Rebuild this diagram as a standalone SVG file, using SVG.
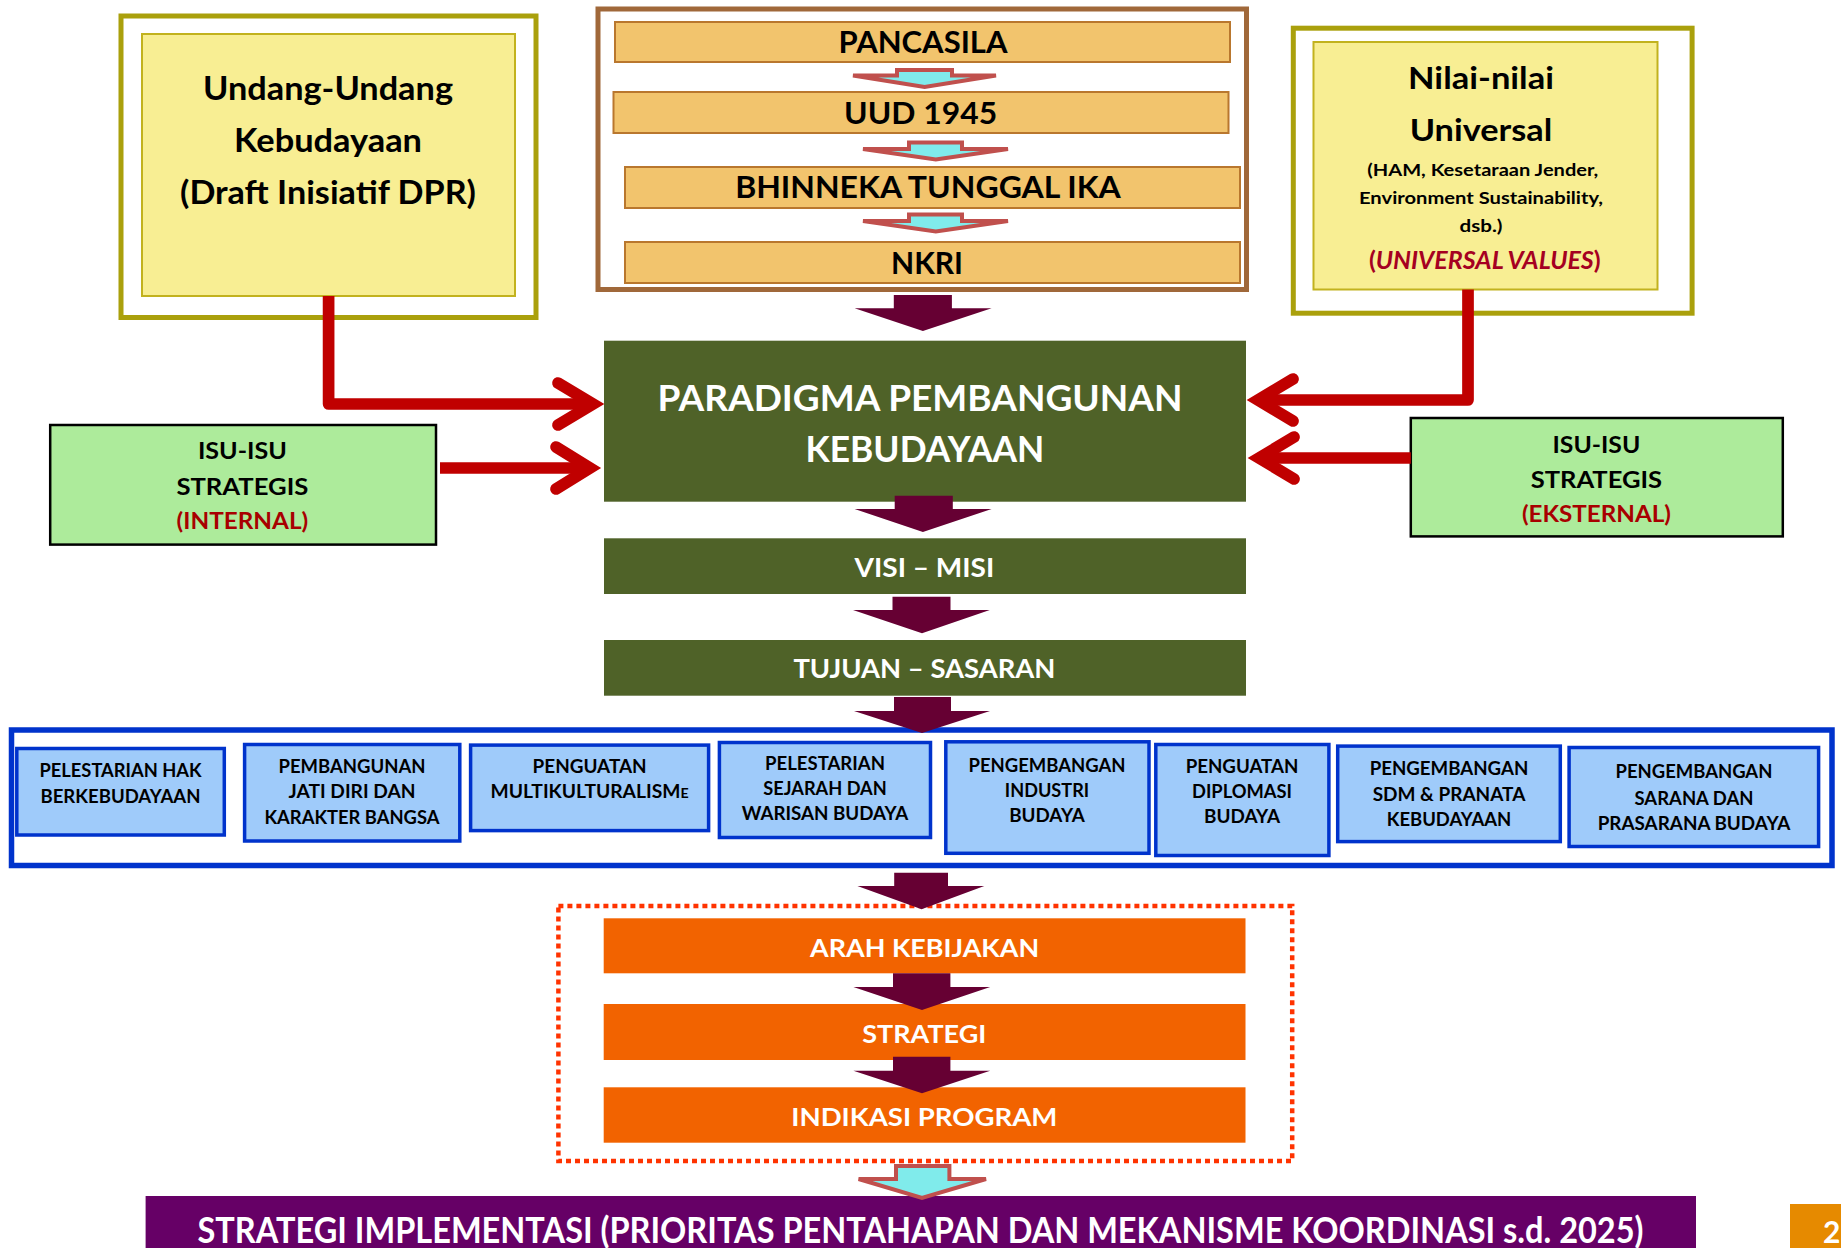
<svg xmlns="http://www.w3.org/2000/svg" width="1841" height="1248" viewBox="0 0 1841 1248">
<style>
text{font-family:Lato,"Liberation Sans",sans-serif;font-weight:700;text-anchor:middle}
.outerY{fill:#fff;stroke:#AAA00C;stroke-width:5}
.innerY{fill:#F8EE93;stroke:#C2B21E;stroke-width:2}
.bar{fill:#F2C46D;stroke:#B9772E;stroke-width:2}
.isu{fill:#ADEB9B;stroke:#000;stroke-width:2.5}
.green{fill:#4F6228}
.orange{fill:#F26300}
.blue{fill:#9FCBFA;stroke:#0033CC;stroke-width:3.5}
.wt{fill:#fff}
.red{fill:#A80000}
.maroon{fill:#660033}
.cyan{fill:#80EBEB;stroke:#C0504D;stroke-width:4;stroke-linejoin:miter}
.conn{fill:none;stroke:#C00000;stroke-width:11.7;stroke-linejoin:round}
.chev{fill:none;stroke:#C00000;stroke-width:11.7;stroke-linecap:round;stroke-linejoin:miter;stroke-miterlimit:10}
.b{font-size:19px}
</style>

<g id="undang">
<rect class="outerY" x="121" y="16" width="415" height="301.5"/>
<rect class="innerY" x="142" y="34" width="373" height="262"/>
<text x="328" y="100" font-size="32" textLength="250" lengthAdjust="spacingAndGlyphs">Undang-Undang</text>
<text x="328" y="152" font-size="32" textLength="188" lengthAdjust="spacingAndGlyphs">Kebudayaan</text>
<text x="328" y="203.6" font-size="32" textLength="296" lengthAdjust="spacingAndGlyphs">(Draft Inisiatif DPR)</text>
</g>

<g id="dasar">
<rect x="598" y="9" width="648.5" height="280.5" fill="#fff" stroke="#A0683A" stroke-width="5"/>
<rect class="bar" x="615" y="22" width="615" height="40"/>
<text x="923" y="53" font-size="30" textLength="169" lengthAdjust="spacingAndGlyphs">PANCASILA</text>
<rect class="bar" x="613.5" y="92" width="615" height="41"/>
<text x="920.6" y="124" font-size="30" textLength="153" lengthAdjust="spacingAndGlyphs">UUD 1945</text>
<rect class="bar" x="625" y="167" width="615" height="41"/>
<text x="928" y="198" font-size="30" textLength="385.7" lengthAdjust="spacingAndGlyphs">BHINNEKA TUNGGAL IKA</text>
<rect class="bar" x="625" y="242" width="615" height="41"/>
<text x="927" y="274" font-size="30" textLength="72" lengthAdjust="spacingAndGlyphs">NKRI</text>
<polygon class="cyan" points="897,70 952,70 952,75.5 996,75.5 924.6,87 853,75.5 897,75.5"/>
<polygon class="cyan" points="909,142.5 962,142.5 962,149 1008,149 935.8,159.5 863,149 909,149"/>
<polygon class="cyan" points="909,214.5 962,214.5 962,221 1008,221 935.8,231.5 863,221 909,221"/>
</g>

<g id="nilai">
<rect class="outerY" x="1293.3" y="28.2" width="398.8" height="285"/>
<rect class="innerY" x="1313.5" y="42" width="344" height="247.5"/>
<text x="1481" y="89.3" font-size="31" textLength="146" lengthAdjust="spacingAndGlyphs">Nilai-nilai</text>
<text x="1481" y="141" font-size="31" textLength="142.6" lengthAdjust="spacingAndGlyphs">Universal</text>
<text x="1482.8" y="176" font-size="17" textLength="231" lengthAdjust="spacingAndGlyphs">(HAM, Kesetaraan Jender,</text>
<text x="1481" y="204.3" font-size="17" textLength="244" lengthAdjust="spacingAndGlyphs">Environment Sustainability,</text>
<text x="1481" y="231.7" font-size="17" textLength="43" lengthAdjust="spacingAndGlyphs">dsb.)</text>
<text x="1484.8" y="269" font-size="24" fill="#A50021" textLength="231.7" lengthAdjust="spacingAndGlyphs">(<tspan font-style="italic">UNIVERSAL VALUES</tspan>)</text>
</g>

<g id="isu-internal">
<rect class="isu" x="50.2" y="425" width="385.8" height="119.6"/>
<text x="242.4" y="459" font-size="22" textLength="89" lengthAdjust="spacingAndGlyphs">ISU-ISU</text>
<text x="242.4" y="494.6" font-size="22" textLength="132" lengthAdjust="spacingAndGlyphs">STRATEGIS</text>
<text class="red" x="242.4" y="528.6" font-size="22" textLength="131.7" lengthAdjust="spacingAndGlyphs">(INTERNAL)</text>
</g>

<g id="isu-eksternal">
<rect class="isu" x="1410.8" y="418" width="372" height="118.4"/>
<text x="1596.4" y="452.9" font-size="22" textLength="87.8" lengthAdjust="spacingAndGlyphs">ISU-ISU</text>
<text x="1596.4" y="487.5" font-size="22" textLength="131.5" lengthAdjust="spacingAndGlyphs">STRATEGIS</text>
<text class="red" x="1596.4" y="522" font-size="22" textLength="149" lengthAdjust="spacingAndGlyphs">(EKSTERNAL)</text>
</g>

<g id="paradigma">
<rect class="green" x="604" y="340.7" width="642" height="161"/>
<text class="wt" x="920" y="410.7" font-size="36" textLength="525" lengthAdjust="spacingAndGlyphs">PARADIGMA PEMBANGUNAN</text>
<text class="wt" x="924.9" y="461.7" font-size="36" textLength="238.8" lengthAdjust="spacingAndGlyphs">KEBUDAYAAN</text>
</g>

<g id="visi">
<rect class="green" x="604" y="538.3" width="642" height="55.7"/>
<text class="wt" x="924.4" y="576.7" font-size="27" textLength="139.7" lengthAdjust="spacingAndGlyphs">VISI – MISI</text>
</g>

<g id="tujuan">
<rect class="green" x="604" y="640" width="642" height="55.7"/>
<text class="wt" x="924.4" y="678.3" font-size="27" textLength="262" lengthAdjust="spacingAndGlyphs">TUJUAN – SASARAN</text>
</g>

<g id="program-container">
<rect x="11.5" y="730" width="1820.5" height="135.5" fill="#fff" stroke="#0033CC" stroke-width="5.5"/>
</g>

<g id="p1">
<rect class="blue" x="16.8" y="748.5" width="207.5" height="86.5"/>
<text class="b" x="120.5" y="776.7" textLength="162" lengthAdjust="spacingAndGlyphs">PELESTARIAN HAK</text>
<text class="b" x="120.5" y="803.3" textLength="160" lengthAdjust="spacingAndGlyphs">BERKEBUDAYAAN</text>
</g>
<g id="p2">
<rect class="blue" x="244.6" y="744.5" width="215.2" height="96.5"/>
<text class="b" x="352" y="773.3" textLength="147" lengthAdjust="spacingAndGlyphs">PEMBANGUNAN</text>
<text class="b" x="352" y="798.3" textLength="127" lengthAdjust="spacingAndGlyphs">JATI DIRI DAN</text>
<text class="b" x="352" y="824" textLength="175" lengthAdjust="spacingAndGlyphs">KARAKTER BANGSA</text>
</g>
<g id="p3">
<rect class="blue" x="470.6" y="745.1" width="238" height="85.5"/>
<text class="b" x="589.6" y="773.3" textLength="114" lengthAdjust="spacingAndGlyphs">PENGUATAN</text>
<text class="b" x="589.6" y="798.3" textLength="198" lengthAdjust="spacingAndGlyphs">MULTIKULTURALISM<tspan font-size="14">E</tspan></text>
</g>
<g id="p4">
<rect class="blue" x="719.4" y="742.5" width="211.1" height="95"/>
<text class="b" x="825" y="770" textLength="120" lengthAdjust="spacingAndGlyphs">PELESTARIAN</text>
<text class="b" x="825" y="795" textLength="123.5" lengthAdjust="spacingAndGlyphs">SEJARAH DAN</text>
<text class="b" x="825" y="820" textLength="166.7" lengthAdjust="spacingAndGlyphs">WARISAN BUDAYA</text>
</g>
<g id="p5">
<rect class="blue" x="945.8" y="741.8" width="203.2" height="111.5"/>
<text class="b" x="1047" y="771.7" textLength="157" lengthAdjust="spacingAndGlyphs">PENGEMBANGAN</text>
<text class="b" x="1047" y="796.5" textLength="84.3" lengthAdjust="spacingAndGlyphs">INDUSTRI</text>
<text class="b" x="1047" y="821.5" textLength="75.7" lengthAdjust="spacingAndGlyphs">BUDAYA</text>
</g>
<g id="p6">
<rect class="blue" x="1155.8" y="744.5" width="173.1" height="111"/>
<text class="b" x="1242" y="773.3" textLength="112.7" lengthAdjust="spacingAndGlyphs">PENGUATAN</text>
<text class="b" x="1242" y="798.3" textLength="100" lengthAdjust="spacingAndGlyphs">DIPLOMASI</text>
<text class="b" x="1242" y="823.3" textLength="76" lengthAdjust="spacingAndGlyphs">BUDAYA</text>
</g>
<g id="p7">
<rect class="blue" x="1337.7" y="746.1" width="222.6" height="95.5"/>
<text class="b" x="1449" y="775" textLength="158.6" lengthAdjust="spacingAndGlyphs">PENGEMBANGAN</text>
<text class="b" x="1449" y="800.7" textLength="152.7" lengthAdjust="spacingAndGlyphs">SDM &amp; PRANATA</text>
<text class="b" x="1449" y="826" textLength="124.5" lengthAdjust="spacingAndGlyphs">KEBUDAYAAN</text>
</g>
<g id="p8">
<rect class="blue" x="1569.1" y="747.5" width="249.5" height="99"/>
<text class="b" x="1694" y="778.3" textLength="156.8" lengthAdjust="spacingAndGlyphs">PENGEMBANGAN</text>
<text class="b" x="1694" y="805" textLength="119" lengthAdjust="spacingAndGlyphs">SARANA DAN</text>
<text class="b" x="1694" y="830" textLength="192.7" lengthAdjust="spacingAndGlyphs">PRASARANA BUDAYA</text>
</g>

<g id="kebijakan-group">
<rect x="558.4" y="906" width="733.8" height="255" fill="none" stroke="#FF3300" stroke-width="4.5" stroke-dasharray="5 4"/>
</g>
<g id="arah">
<rect class="orange" x="603.7" y="918.3" width="641.8" height="55"/>
<text class="wt" x="924.6" y="956.7" font-size="25.5" textLength="229" lengthAdjust="spacingAndGlyphs">ARAH KEBIJAKAN</text>
</g>
<g id="strategi">
<rect class="orange" x="603.7" y="1004" width="641.8" height="56"/>
<text class="wt" x="924.3" y="1042.7" font-size="25.5" textLength="124" lengthAdjust="spacingAndGlyphs">STRATEGI</text>
</g>
<g id="indikasi">
<rect class="orange" x="603.7" y="1087.3" width="641.8" height="55.4"/>
<text class="wt" x="924.3" y="1125.7" font-size="25.5" textLength="266" lengthAdjust="spacingAndGlyphs">INDIKASI PROGRAM</text>
</g>

<g id="implementasi">
<rect x="145.6" y="1196" width="1550.4" height="60" fill="#660066"/>
<text class="wt" x="920.5" y="1243.3" font-size="37" textLength="1446" lengthAdjust="spacingAndGlyphs">STRATEGI IMPLEMENTASI (PRIORITAS PENTAHAPAN DAN MEKANISME KOORDINASI s.d. 2025)</text>
</g>

<g id="page">
<rect x="1790" y="1204" width="60" height="50" fill="#E68A00"/>
<text class="wt" x="1823" y="1243" font-size="30" style="text-anchor:start">2</text>
</g>

<g id="connectors">
<path class="conn" d="M328.6 296 V404 H593"/>
<polyline class="chev" points="558,383 593,404 558,425"/>
<path class="conn" d="M440 468 H590"/>
<polyline class="chev" points="556,447 590,468 556,489"/>
<path class="conn" d="M1468 289.5 V400 H1258"/>
<polyline class="chev" points="1293,379 1258,400 1293,421"/>
<path class="conn" d="M1410.8 458 H1259"/>
<polyline class="chev" points="1294,437 1259,458 1294,479"/>
<polygon class="maroon" points="893.8,295 951.9,295 951.9,308.3 991.6,308.3 922.9,331 854.6,308.3 893.8,308.3"/>
<polygon class="maroon" points="894.7,495.7 952.8,495.7 952.8,509 991.6,509 922.9,532 854.6,509 894.7,509"/>
<polygon class="maroon" points="892.5,596.7 950.5,596.7 950.5,610 989.8,610 922,633.3 853,610 892.5,610"/>
<polygon class="maroon" points="894,697 951,697 951,711 990,711 922,733 854,711 894,711"/>
<polygon class="maroon" points="894.2,872.7 948,872.7 948,886 984.3,886 921.6,909.3 857.4,886 894.2,886"/>
<polygon class="maroon" points="893,973.3 950.4,973.3 950.4,987 990.2,987 922,1010 853.4,987 893,987"/>
<polygon class="maroon" points="893,1056.7 950.4,1056.7 950.4,1070.7 990.2,1070.7 922,1093.3 853.4,1070.7 893,1070.7"/>
<polygon class="cyan" points="896,1166 949.4,1166 949.4,1179 986,1179 922,1198 858.6,1179 896,1179"/>
</g>
</svg>
